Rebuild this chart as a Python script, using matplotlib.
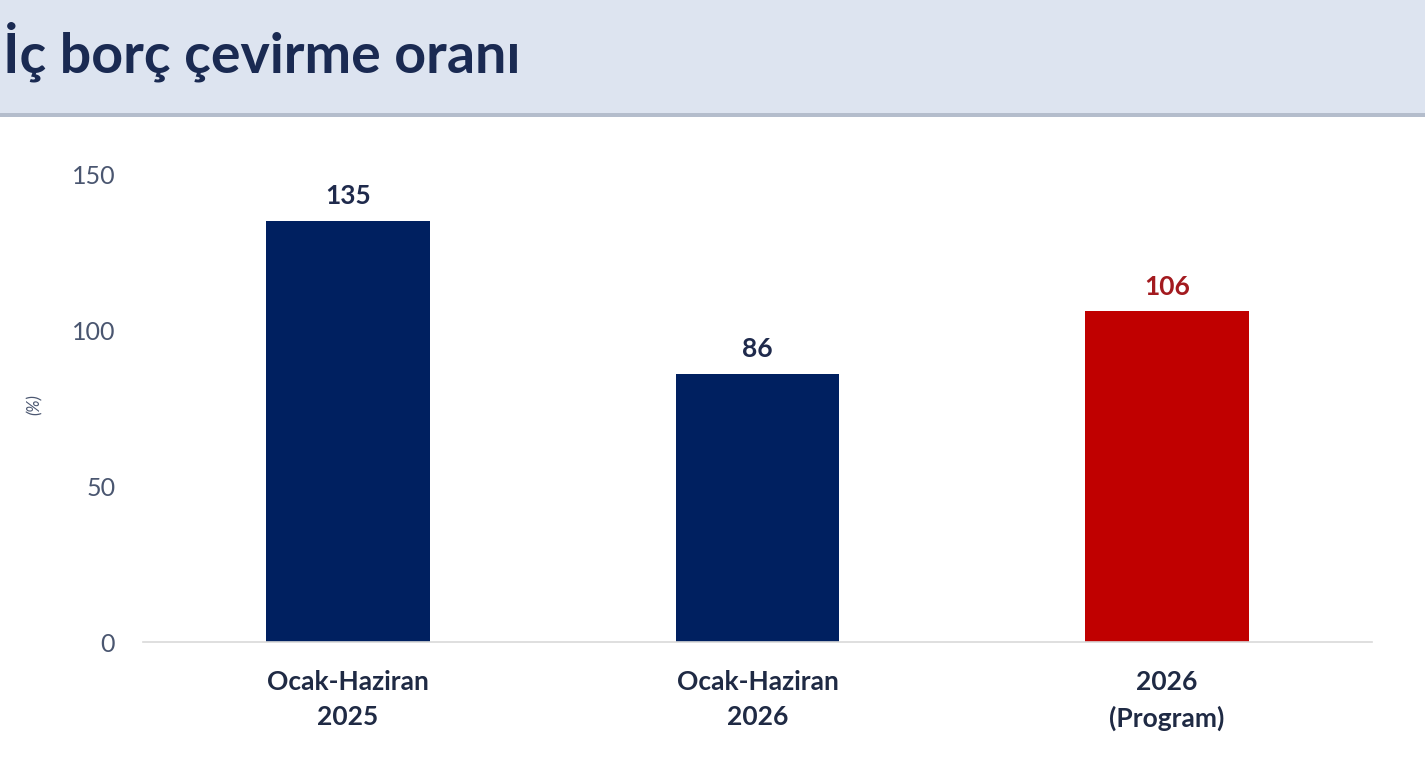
import matplotlib
matplotlib.use('Agg')
import matplotlib.pyplot as plt
from matplotlib.patches import Rectangle

# ---- data ----
categories = ['Ocak-Haziran\n2025', 'Ocak-Haziran\n2026', '2026\n(Program)']
values = [135, 86, 106]
bar_colors = ['#002060', '#002060', '#c00000']
label_colors = ['#1f2a4c', '#1f2a4c', '#a31a1f']
yticks = [0, 50, 100, 150]

plt.rcParams['font.family'] = ['Lato', 'DejaVu Sans']

fig = plt.figure(figsize=(14.25, 7.62), dpi=100)
fig.patch.set_facecolor('white')

# title band
fig.patches.append(Rectangle((0, 1 - 113 / 762), 1, 113 / 762,
                             transform=fig.transFigure, facecolor='#dde4f0',
                             edgecolor='none', zorder=0))
fig.patches.append(Rectangle((0, 1 - 117 / 762), 1, 4 / 762,
                             transform=fig.transFigure, facecolor='#b4bdcc',
                             edgecolor='none', zorder=0))
fig.text(0.002, 1 - 73 / 762, 'İç borç çevirme oranı', fontsize=40,
         fontweight='bold', color='#1a2a52', ha='left', va='baseline')

ax = fig.add_axes([143 / 1425, 1 - 642 / 762, (1372 - 143) / 1425, (642 - 174) / 762])
x = range(len(values))
bars = ax.bar(x, values, width=0.4, color=bar_colors, zorder=2)

for xi, v, c in zip(x, values, label_colors):
    ax.annotate(str(v), (xi, v), xytext=(0, 9), textcoords='offset points',
                ha='center', va='bottom', fontsize=19, fontweight='bold', color=c)

ax.set_xlim(-0.5, 2.5)
ax.set_ylim(0, 150)
ax.set_yticks(yticks)
ax.set_xticks(list(x))
ax.set_xticklabels(categories, fontsize=19, fontweight='bold', color='#1f2a44',
                   linespacing=1.55)
ax.tick_params(axis='y', length=0, pad=20, labelsize=18, labelcolor='#4a5670')
ax.tick_params(axis='x', length=0, pad=20)

for s in ['top', 'right', 'left']:
    ax.spines[s].set_visible(False)
ax.spines['bottom'].set_color('#d9d9d9')
ax.spines['bottom'].set_linewidth(1.2)

fig.text(35 / 1425, 1 - 405 / 762, '(%)', rotation=90, fontsize=12,
         style='italic', color='#4a5670', ha='center', va='center')

fig.savefig('out.png', dpi=100)
